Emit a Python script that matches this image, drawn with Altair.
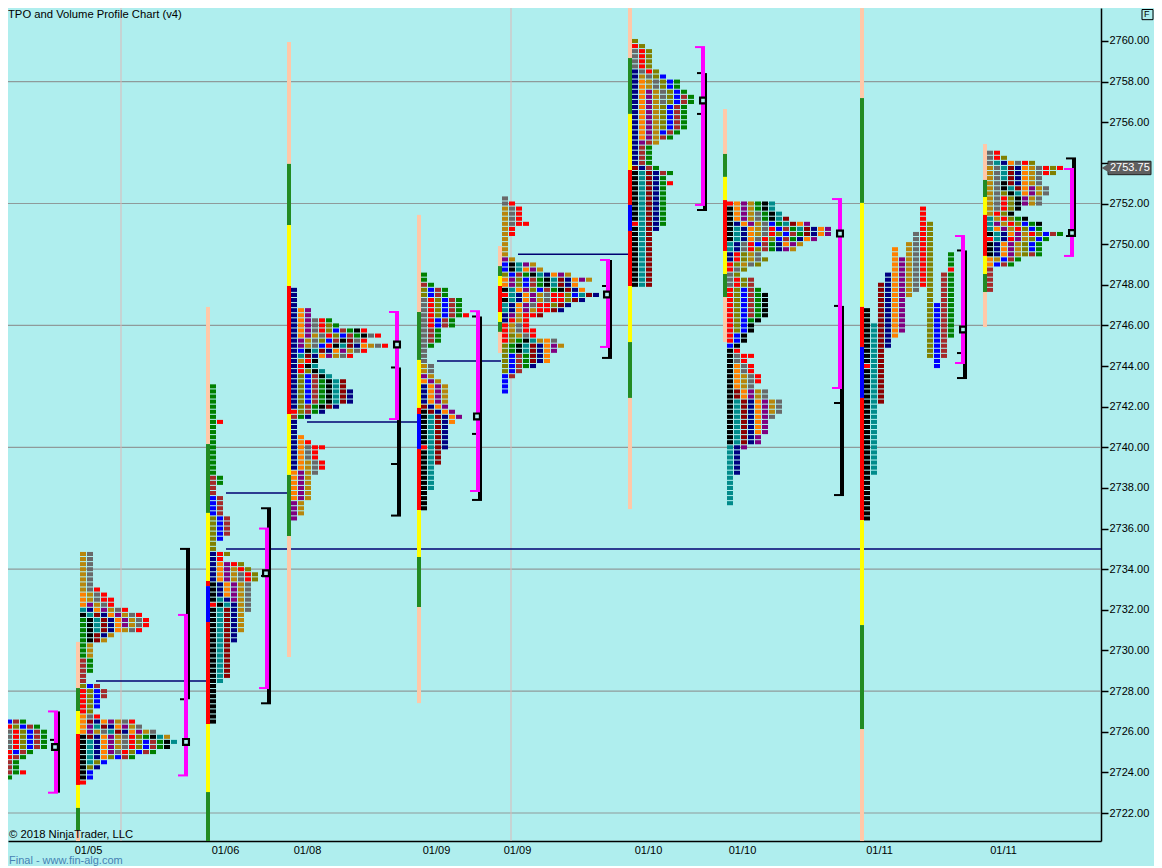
import altair as alt
import pandas as pd

# ---- price-ladder chart data ----------------------------------------------
BG = "#AFEEEE"
palette_keys = list("KTDNOPGHRLBWESFY")
palette_vals = ["#000000", "#008B8B", "#8B0000", "#000080", "#FF8000", "#800080",
                "#B8860B", "#696969", "#FF0000", "#808000", "#0000FF", "#A52A2A",
                "#008000", "#FFC8A8", "#228B22", "#FFFF00"]

profile_left = [-1, 80, 210, 291, 421, 502, 632, 727, 864, 987]
profile_top = [2727, 2734.75, 2743, 2747.75, 2748.5, 2752.25, 2760, 2752, 2751.75, 2754.5]
profile_rows = [
    "W W LBWE HRLBWE GHRLBWE GHRLBWE GHRLBWE GHRLBWE HRBWE HRWE HWE HWE GWER GE",
    "GH GH GH GH GH GH GH GHR OGHR OGHRR OPGHR TNOPGHR KTDNOPGHR EKTDNOPGHR EKTDNOPGHR EKTDNOGHR "
    "EKDNG EKDG EG EG EG WE WE WE W W LBW RLBW RLBW RLB RLB RL OHR ODNOPGHR OPTDNOPGH OPGHTDNOPGH "
    "KDNOPGHRLEKTG KTNOPGHRLBWEKT KTNOPGHRLBWEK KTNOPHRLBWE KTNOLBWE KTLB KLN KB KB R",
    "E E E E E E E ER E E E E E E E E E E WE WE W W BW BW BW BW LBW LBW LBW LBW LB L L "
    "NRL NR NOPRL NOPGRL NOPGHRL NOPGHRL KNOPGH KNOPGH KNOPGH KTNPGH RKTNGH KTDNGH KTDNG KTDNG KTDNG KTDNG "
    "KTDN KTDN KTD KTD KTD KTD KTD KTD KTD KT K K K K K K K K",
    "N N N N NOP NOP NOPHRE NOPHRLE NOPHRLBWEKR NOPGHRLBWEKHR NPGHLBWKDHR NPGHBRKTDNOGHR NBKTDNOPGHR "
    "NTDNOPGHR NGRK NRKT NRLKT NLBWKT NLBWEKTD NLBWEKTD NLBWEKTDN NLBWEKTDN NLBWEKTDN NLWEKDN RLWEN WEN "
    "N N N NO NOR NOHRR NOHR NOHR NOGHR NOGHR OPGH OPG OPG OPG OPG OPG PG PG PG P",
    "E E WE LBWE LBWE HRLBWE HRLBWE HRLBWE HRLBWER HRBWE HRBWE HWE HWE HWE HE H H H GH GH PG OPG "
    "NOPG NOPG NOPG NOPG DNOP KDNOP KTDNOP KTDNO KTDN KTDN KTDN KTDN RTDN KTD KTD KTD KT KT KT KT KT K K K K",
    "H HR GHR GHR GHR GHRR GR GR G G G G PG BKTPG BKTOPG LBWEKTNOPG OPLBWEKTDNOPG OPLBWEKTDNO "
    "KTOPLBWEKDNO RTNOPGHRRLBTDN KTNOPGHRRLDN TNOPHRRLDN TNOPGRRDN NPGRRD NRGR RGHR RGHRR RLGHR "
    "RLEKTGOH LEKTDNOPG LEKTDNOP LBWEDNO LBWEDNO LBWEN LBW BW B B B",
    "L RL HRL HRL HRL HRL NHRL NGHLB NOGHLBE NOGHLBE NOPGHLBE NOPGHLBWE NOPGHLBWE NOPGLBWE NOPGLBWE "
    "NOPGLBWE NOPGLBWE NOPGLBWE NOPGBWE NOPGWE NPWG NWE NWE NWE NWE DNWE KTDNWE KTDNE KTDNER KTDNE KTDNE "
    "KTDNE KTDNE KTDNE KTDNE KTDNE RTDNE KTDN KTD KTD KTD KTD KTD KTD KTD KTD KTD KTD KTD",
    "ROPGEKT KOPGEKT KOPGHEKT KOPGHEKTD KNOPGHBETDOP KTNOGHRBWETDNOP KTNOGHRLBWEDNOP KTNOHRLBWENOP "
    "TNHRBWENOPG TNHRLWENPG NRLGH NRLGHL RLGHL RHL HL HRLW HRLW RLBWE RLBWEK RLBWEK RLBWEK RLBWEK RLBWEK "
    "RLBEK RLBK RLBK RBK RBK BK KR KHRR KHR KOHR KOHR KOGHR KOGHR KOGH KDOPGH KDOPGH KTDNOPGH KTDNOPGH "
    "KTDNOPGH KTDNOPH KTDNOP KTDNOP KTDNOP KTDNP KTDNP TNP TN TN TN TN TN T T T T T T",
    "........R.... ........R.... ........R.... ........RL... ........RL... .......HRL... .......HRL... "
    "......GHRL... ....O.GHRL... ....O.GHRL..E ....OPGHRL..E ....OPGHRL..E ....OPGHRL..R ...NOPGHRL.WE "
    "...NOPGHRL.WE ..DNOPGHRL.WE ..DNOPGH.L.WE ..DNOPG..L.WE ..DNOP...L.WE ..DNOP...LBWE K.DNOP...LBWE "
    "K.DNOP...LBWE K.DNOP...LBWE KTDNOP...LBWE KTDNOP...LBWE KTDNO....LBWE KTDN.....LBW. KTDN.....LBW. "
    "KTD......LBW. KTD......LBW. KTD.......B.. RTD.......B.. KTD KTD KTD KTD KTD KTD KTD "
    "KT KT KT KT KT KT KT KT KT KT KT KT KT KT K K K K K K K K K",
    "HR HRL HTNOHRL GHTDNOGHRLR GHTDNOGHRL GHTDNOGH GHKDNOGH GHKTDOPGH GHLKTOPGH GHRLKPGH GHRLKPGH "
    "GHRLK GRLK TGRLEK TPGRLBEK TOPGRLBE KTNOPGRLBWE RTNRPGLBE KNOPGLBE KNOPGLBE KNOPGLWE OGBWE OBWE "
    "W W W W W",
]

# volatility columns: left edge, price breakpoints and the colour of each segment
vol_left = [76, 206, 287, 417, 498, 628, 723, 860, 983]
vol_breaks = [
    [2730.42, 2728.15, 2727.02, 2725.89, 2723.38, 2722.25, 2721.16, 2720.62],
    [2746.91, 2740.16, 2736.77, 2733.42, 2733.17, 2731.40, 2726.38, 2723.03, 2720.62],
    [2759.95, 2753.95, 2750.94, 2747.94, 2741.64, 2738.64, 2735.63, 2729.68],
    [2751.44, 2746.66, 2744.30, 2741.94, 2741.64, 2739.92, 2736.91, 2734.60, 2732.14, 2727.41],
    [2749.91, 2748.92, 2748.43, 2747.94, 2746.66, 2746.17, 2745.68, 2744.64],
    [2761.62, 2759.16, 2756.41, 2753.65, 2751.93, 2750.65, 2747.94, 2745.18, 2742.43, 2736.96],
    [2756.65, 2754.44, 2753.31, 2752.17, 2749.66, 2748.53, 2747.40, 2745.18],
    [2761.62, 2757.19, 2752.03, 2746.91, 2744.94, 2742.43, 2736.42, 2731.25, 2726.13, 2720.62],
    [2754.93, 2753.16, 2752.32, 2751.44, 2749.42, 2748.53, 2747.64, 2745.92],
]
vol_colors = ["SFYRYFS", "SFYRBRYF", "SFYRYFS", "SFYRBRYFS", "SFYRYFS", "SFYRBRYFS", "SFYRYFS", "SFYRBRYFS", "SFYRYFS"]

# value area brackets (magenta), range brackets (black), POC markers
va_x = [56, 186, 267, 397, 478, 608, 703, 840, 963, 1072]
va_top = [2727, 2731.75, 2736, 2746.66, 2746.7, 2749.22, 2759.7, 2752.22, 2750.4, 2753.7]
va_bot = [2723, 2723.85, 2728.15, 2741.39, 2737.85, 2744.94, 2751.93, 2742.92, 2744.15, 2749.42]
rng_x = [58, 188, 269, 399, 480, 610, 705, 842, 965, 1074]
rng_top = [2727, 2735, 2737, 2743.93, 2746.44, 2749.22, 2758.42, 2746.96, 2749.69, 2754.22]
rng_bot = [2723, 2727.6, 2727.4, 2736.64, 2737.41, 2744.4, 2751.68, 2737.65, 2743.41, 2750.4]
tick_x0 = [50, 180, 180, 261, 261, 261, 391, 391, 391, 472, 472, 472, 602, 602, 697, 697, 697, 834, 834, 834, 957, 957, 957, 1066, 1066]
tick_x1 = [54, 190, 186, 271, 268, 271, 397, 397, 401, 478, 478, 482, 608, 612, 703, 703, 707, 840, 840, 844, 963, 963, 967, 1076, 1072]
tick_p = [2725.6, 2735, 2727.6, 2737, 2733.67, 2727.4, 2743.93, 2739.18, 2736.64, 2746.44, 2740.66, 2737.41,
          2747.94, 2744.4, 2758.42, 2756.41, 2751.68, 2746.96, 2742.18, 2737.65, 2749.69, 2744.64, 2743.41, 2754.22, 2750.4]
poc_x = [55, 186, 266, 397, 477, 607, 703, 840, 963, 1072]
poc_p = [2725.25, 2725.5, 2733.8, 2745.06, 2741.52, 2747.52, 2757.07, 2750.52, 2745.8, 2750.55]

# naked POC lines
naked_x0 = [96, 226, 226, 307, 437, 518]
naked_x1 = [208, 288, 1101, 417, 501, 631]
naked_p = [2728.5, 2737.75, 2735, 2741.25, 2744.25, 2749.5]

grid_prices = [2722, 2728, 2734, 2740, 2746, 2752, 2758]
session_x = [121, 511]
price_ticks = list(range(2722, 2762, 2))
date_pos = [88, 225, 307, 436, 517, 648, 742, 879, 1003]
date_txt = ["01/05", "01/06", "01/08", "01/09", "01/09", "01/10", "01/10", "01/11", "01/11"]
last_price = 2753.75

# ---- tables ----------------------------------------------------------------
cells = []
for left, top, rows in zip(profile_left, profile_top, profile_rows):
    for i, row in enumerate(rows.split()):
        price = top - 0.25 * i
        for j, c in enumerate(row):
            if c != ".":
                cells.append(dict(x=left + 7 * j, x2=left + 7 * j + 6,
                                  y=price + 0.1, y2=price - 0.1, c=c))
cells = pd.DataFrame(cells)

vols = []
for left, br, cols in zip(vol_left, vol_breaks, vol_colors):
    for k, c in enumerate(cols):
        vols.append(dict(x=left, x2=left + 4, y=br[k], y2=br[k + 1], c=c))
vols = pd.DataFrame(vols)

FONT = "Liberation Sans"
xs = alt.Scale(domain=[8, 1101], nice=False, zero=False)
ys = alt.Scale(domain=[2720.622, 2761.624], nice=False, zero=False)
col = alt.Color("c:N", scale=alt.Scale(domain=palette_keys, range=palette_vals), legend=None)
x_axis = alt.Axis(
    values=date_pos, ticks=False, grid=False, domainColor="#000000", domainWidth=1.5,
    labelExpr="{" + ",".join(f"{p}:'{t}'" for p, t in zip(date_pos, date_txt)) + "}[datum.value]",
    labelFont=FONT, labelFontSize=11, labelColor="#000000", labelPadding=3, labelOverlap=False,
    labelFlush=False)
y_axis = alt.Axis(
    orient="right", values=price_ticks, grid=False, domainColor="#000000", domainWidth=1.5,
    labelExpr=f"datum.value == {round(last_price + 0.25)} ? '' : format(datum.value, '.2f')",
    tickColor="#000000", tickSize=7, tickWidth=1.5, labelFont=FONT, labelFontSize=11, labelColor="#000000",
    labelPadding=1, labelOverlap=False, labelFlush=False)
X = alt.X("x:Q", scale=xs, title=None, axis=x_axis)
Y = alt.Y("y:Q", scale=ys, title=None, axis=y_axis)

grid = alt.Chart(pd.DataFrame({"y": grid_prices})).mark_rule(color="#8F9A9A", strokeWidth=1.2).encode(
    y=Y, x=alt.value(0), x2=alt.value(1093))
sessions = alt.Chart(pd.DataFrame({"x": session_x})).mark_rule(color="#DDB8B8", strokeWidth=1).encode(
    x=X, y=alt.value(0), y2=alt.value(833))
naked = alt.Chart(pd.DataFrame({"x": naked_x0, "x2": naked_x1, "y": naked_p})).mark_rule(
    color="#000070", strokeWidth=1.5).encode(x=X, x2="x2:Q", y=Y)
vol_layer = alt.Chart(vols).mark_rect().encode(x=X, x2="x2:Q", y=Y, y2="y2:Q", color=col)
cell_layer = alt.Chart(cells).mark_rect().encode(x=X, x2="x2:Q", y=Y, y2="y2:Q", color=col)

rng = alt.Chart(pd.DataFrame({"x": rng_x, "y": rng_top, "y2": rng_bot})).mark_rule(
    color="#000000", strokeWidth=4).encode(x=X, y=Y, y2="y2:Q")
rng_ticks = alt.Chart(pd.DataFrame({"x": tick_x0, "x2": tick_x1, "y": tick_p})).mark_rule(
    color="#000000", strokeWidth=2).encode(x=X, x2="x2:Q", y=Y)
va = alt.Chart(pd.DataFrame({"x": va_x, "y": va_top, "y2": va_bot})).mark_rule(
    color="#FF00FF", strokeWidth=4).encode(x=X, y=Y, y2="y2:Q")
va_caps = pd.DataFrame({"x": [v - 8 for v in va_x] * 2, "x2": [v + 2 for v in va_x] * 2, "y": va_top + va_bot})
va_ticks = alt.Chart(va_caps).mark_rule(color="#FF00FF", strokeWidth=2).encode(x=X, x2="x2:Q", y=Y)
poc = alt.Chart(pd.DataFrame({"x": poc_x, "y": poc_p})).mark_point(
    shape="square", filled=True, fill=BG, stroke="#000000", strokeWidth=2.2, size=34, opacity=1).encode(x=X, y=Y)

tag_box = alt.Chart(pd.DataFrame({"x": [1108], "x2": [1151], "y": [last_price + 0.33], "y2": [last_price - 0.33]})).mark_rect(
    color="#5F5F5F", stroke="#222222", strokeWidth=1).encode(x=X, x2="x2:Q", y=Y, y2="y2:Q")
tag_tip = alt.Chart(pd.DataFrame({"x": [1106], "y": [last_price]})).mark_point(
    shape="triangle-left", filled=True, color="#5F5F5F", size=110, opacity=1).encode(x=X, y=Y)
tag_txt = alt.Chart(pd.DataFrame({"x": [1110], "y": [last_price], "t": [f"{last_price:.2f}"]})).mark_text(
    align="left", baseline="middle", color="#FFFFFF", font=FONT, fontSize=11).encode(x=X, y=Y, text="t:N")


def note(text, x, y, color="#000000", size=11.25):
    return alt.Chart(pd.DataFrame({"t": [text]})).mark_text(
        align="left", baseline="middle", color=color, font=FONT, fontSize=size
    ).encode(x=alt.value(x), y=alt.value(y), text="t:N")


title = note("TPO and Volume Profile Chart (v4)", 0, 7)
copy = note("\u00a9 2018 NinjaTrader, LLC", 1, 827)
final = note("Final - www.fin-alg.com", 1, 853, color="#4682B4", size=11)
f_box = alt.Chart(pd.DataFrame({"x": [1142], "x2": [1153], "y": [2761.55], "y2": [2761.05]})).mark_rect(
    fill=BG, stroke="#000000", strokeWidth=1).encode(x=X, x2="x2:Q", y=Y, y2="y2:Q")
f_txt = note("F", 1136, 6, size=9)

chart = alt.layer(
    grid, sessions, naked, vol_layer, cell_layer, rng, rng_ticks, va, va_ticks, poc,
    tag_box, tag_tip, tag_txt, title, copy, final, f_box, f_txt,
).properties(
    width=1093, height=833,
    autosize=alt.AutoSizeParams(type="none"),
    padding={"left": 0, "top": 0, "right": 53, "bottom": 25},
    background=BG,
).configure_view(stroke=None)

chart.save("out.html", embed_options={"renderer": "svg", "actions": False})
